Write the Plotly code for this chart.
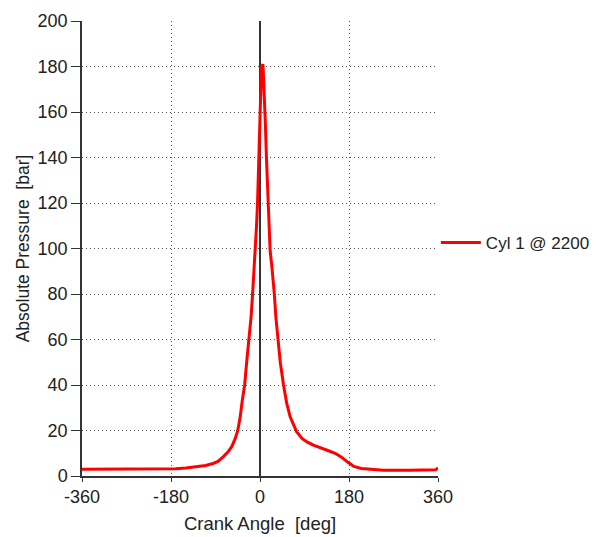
import plotly.graph_objects as go

crank_angle = [-360, -330, -300, -270, -240, -200, -170, -150, -130, -110, -95, -85, -74, -65, -57,
               -50, -45, -40, -36, -31, -27, -22, -18, -15, -12, -9, -7, -5, -3.5, -2.5, -1, 0,
               1.5, 3, 6, 8, 9, 11, 13, 15.5, 17, 20.5, 24, 26, 29, 32, 36, 41, 47.6, 54, 61, 67,
               74, 85, 95, 108, 125, 140, 152, 165, 178, 190, 205, 220, 250, 300, 340, 355, 360]
pressure = [3.0, 3.0, 2.9, 2.9, 3.0, 3.0, 3.2, 3.5, 3.9, 4.6, 5.5, 6.4, 8.5, 10.5, 13,
            16.5, 20, 26, 33, 40, 50, 60, 70, 80, 90, 99, 110, 120, 132, 143, 155, 165,
            175, 180, 181, 172, 165, 154, 140, 126, 114, 99, 92, 87.6, 80, 70, 60, 50, 40, 32, 26, 23,
            19.5, 16.5, 15, 13.6, 12.4, 11.0, 10.0, 8.3, 6.0, 4.2, 3.3, 3.0, 2.5, 2.5, 2.5, 2.7, 3.5]

x_ticks = [-360, -180, 0, 180, 360]
y_ticks = [0, 20, 40, 60, 80, 100, 120, 140, 160, 180, 200]

font_family = "Liberation Sans, Arial, sans-serif"

fig = go.Figure()
fig.add_trace(go.Scatter(
    x=crank_angle, y=pressure, mode="lines", name="Cyl 1 @ 2200",
    line=dict(color="#ff0000", width=3),
))

fig.update_layout(
    width=594, height=529,
    margin=dict(l=74, r=164, t=13, b=61, autoexpand=False),
    paper_bgcolor="white", plot_bgcolor="white",
    font=dict(family=font_family, size=18, color="#222222"),
    showlegend=True,
    legend=dict(x=0.994, y=0.512, xanchor="left", yanchor="middle",
                font=dict(size=17, color="#222222"), bgcolor="rgba(0,0,0,0)",
                itemwidth=40),
    xaxis=dict(
        range=[-360, 360], tickvals=x_ticks, ticktext=[str(v) for v in x_ticks],
        automargin=False,
        showgrid=True, gridcolor="#555555", griddash="1px,3px", gridwidth=1,
        zeroline=True, zerolinecolor="#333333", zerolinewidth=1.5,
        showline=True, linecolor="#333333", linewidth=1.5,
        ticks="outside", ticklen=4, tickcolor="#333333",
        tickfont=dict(size=18),
        title=dict(text="Crank Angle\u00a0 [deg]", font=dict(size=18.5), standoff=11),
    ),
    yaxis=dict(
        range=[0, 200], tickvals=y_ticks,
        automargin=False,
        showgrid=True, gridcolor="#555555", griddash="1px,3px", gridwidth=1,
        zeroline=False,
        showline=True, linecolor="#333333", linewidth=1.5,
        ticks="outside", ticklen=9, tickcolor="#333333",
        tickfont=dict(size=18),
        title=dict(text="Absolute Pressure\u00a0 [bar]", font=dict(size=17.5), standoff=3),
    ),
)

fig.write_html("out.html")
